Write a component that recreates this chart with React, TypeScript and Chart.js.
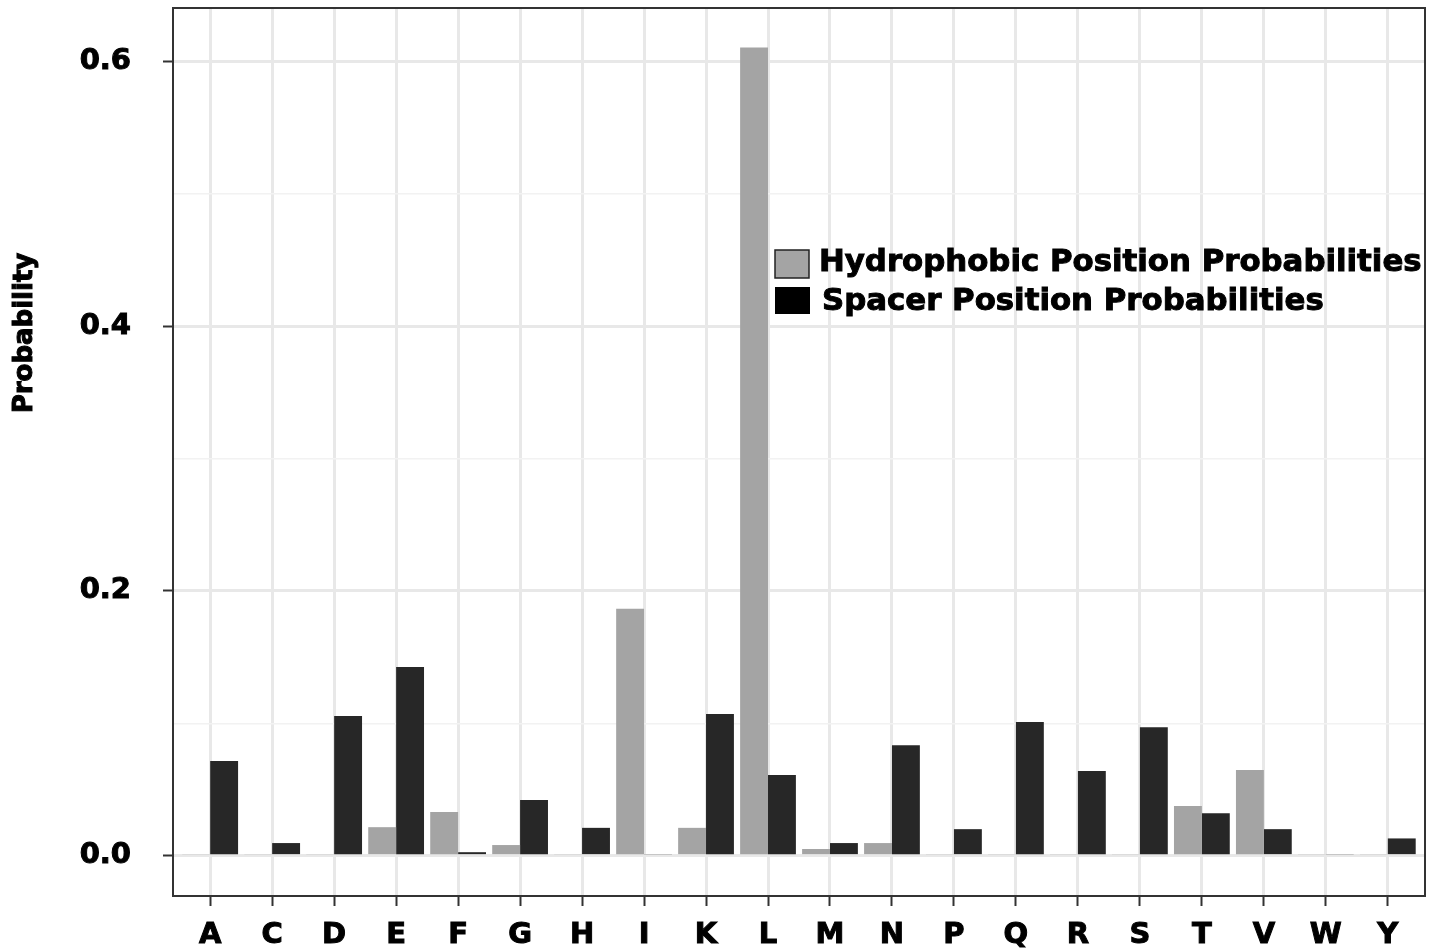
import React, { useEffect, useRef } from 'react';
import { Chart, registerables } from 'chart.js';
Chart.register(...registerables);

const categories = ['A', 'C', 'D', 'E', 'F', 'G', 'H', 'I', 'K', 'L', 'M', 'N', 'P', 'Q', 'R', 'S', 'T', 'V', 'W', 'Y'];
const hydrophobic = [0.001, 0.001, 0.001, 0.0215, 0.033, 0.008, 0.001, 0.1865, 0.021, 0.6106, 0.005, 0.0095, 0.001, 0.001, 0.001, 0.001, 0.0375, 0.0647, 0.001, 0.001];
const spacer = [0.0715, 0.0095, 0.1055, 0.1425, 0.0026, 0.042, 0.021, 0.001, 0.107, 0.061, 0.0095, 0.0835, 0.02, 0.101, 0.064, 0.097, 0.032, 0.02, 0.001, 0.013];
const seriesLabels = ['Hydrophobic Position Probabilities', 'Spacer Position Probabilities'];
const seriesColors = ['#a4a4a4', '#272727'];
const yTickValues = [0, 0.1, 0.2, 0.3, 0.4, 0.5, 0.6];
const yTickLabels = ['0.0', '', '0.2', '', '0.4', '', '0.6'];
const yTitle = 'Probability';

const FONT = '"DejaVu Sans", "Liberation Sans", Arial, sans-serif';

const overlay = {
  id: 'overlay',
  afterDatasetsDraw(chart: any) {
    const { ctx, chartArea } = chart;
    ctx.save();
    // frame
    ctx.strokeStyle = '#333333';
    ctx.lineWidth = 2;
    ctx.strokeRect(chartArea.left, chartArea.top, chartArea.right - chartArea.left, chartArea.bottom - chartArea.top);
    // legend
    ctx.font = `bold 30.8px ${FONT}`;
    ctx.textBaseline = 'middle';
    ctx.textAlign = 'left';
    ctx.fillStyle = seriesColors[0];
    ctx.fillRect(775, 250, 34, 28);
    ctx.strokeStyle = '#222';
    ctx.lineWidth = 1.5;
    ctx.strokeRect(775, 250, 34, 28);
    ctx.fillStyle = '#000';
    ctx.strokeStyle = '#000';
    ctx.lineWidth = 1;
    ctx.fillText(seriesLabels[0], 819, 263);
    ctx.strokeText(seriesLabels[0], 819, 263);
    ctx.fillRect(775, 287, 35, 27);
    ctx.fillText(seriesLabels[1], 822, 302);
    ctx.strokeText(seriesLabels[1], 822, 302);
    // y title
    ctx.translate(25, 333);
    ctx.rotate(-Math.PI / 2);
    ctx.textAlign = 'center';
    ctx.font = `bold 26px ${FONT}`;
    ctx.fillText(yTitle, 0, 0);
    ctx.strokeText(yTitle, 0, 0);
    ctx.restore();
  },
};

export default function App() {
  const ref = useRef<HTMLCanvasElement>(null);
  useEffect(() => {
    document.body.style.margin = '0';
    const canvas = ref.current!;
    const chart = new Chart(canvas, {
      type: 'bar',
      data: {
        datasets: [
          {
            label: seriesLabels[0],
            data: hydrophobic.map((v, i) => ({ x: i, y: v })),
            backgroundColor: seriesColors[0],
            borderWidth: 0,
            categoryPercentage: 0.9,
            barPercentage: 1.0,
          },
          {
            label: seriesLabels[1],
            data: spacer.map((v, i) => ({ x: i, y: v })),
            backgroundColor: seriesColors[1],
            borderWidth: 0,
            categoryPercentage: 0.9,
            barPercentage: 1.0,
          },
        ],
      },
      options: {
        animation: false,
        responsive: false,
        devicePixelRatio: 1,
        layout: { padding: { top: 8, right: 15, left: 0, bottom: 0 } },
        plugins: { legend: { display: false }, tooltip: { enabled: false }, title: { display: false } },
        scales: {
          x: {
            type: 'linear',
            min: -0.6,
            max: categories.length - 1 + 0.6,
            offset: false,
            afterBuildTicks: (scale: any) => {
              scale.ticks = categories.map((_, i) => ({ value: i }));
            },
            afterFit: (scale: any) => {
              scale.height = 55;
              scale.paddingLeft = 0;
              scale.paddingRight = 0;
              scale.paddingTop = 0;
              scale.paddingBottom = 0;
            },
            ticks: {
              autoSkip: false,
              maxRotation: 0,
              padding: 12,
              color: '#000',
              textStrokeColor: '#000',
              textStrokeWidth: 1,
              font: { family: FONT, weight: 'bold', size: 29 },
              callback: (v: any) => categories[v as number] ?? '',
            },
            grid: {
              color: '#e8e8e8',
              lineWidth: 3,
              tickColor: '#333333',
              tickLength: 10,
              tickWidth: 2,
              offset: false,
            },
            border: { display: false },
          },
          y: {
            min: -0.0305,
            max: 0.6405,
            afterBuildTicks: (scale: any) => {
              scale.ticks = yTickValues.map((v) => ({ value: v }));
            },
            afterFit: (scale: any) => {
              scale.width = 173;
              scale.paddingTop = 0;
              scale.paddingBottom = 0;
              scale.paddingLeft = 0;
              scale.paddingRight = 0;
            },
            ticks: {
              padding: 32,
              color: '#000',
              textStrokeColor: '#000',
              textStrokeWidth: 1,
              font: { family: FONT, weight: 'bold', size: 29 },
              callback: (_v: any, i: number) => yTickLabels[i],
            },
            grid: {
              color: (c: any) => (yTickLabels[c.index] ? '#e8e8e8' : '#f2f2f2'),
              lineWidth: (c: any) => (yTickLabels[c.index] ? 3 : 1.5),
              tickColor: (c: any) => (yTickLabels[c.index] ? '#333333' : 'rgba(0,0,0,0)'),
              tickLength: 10,
              tickWidth: 2,
            },
            border: { display: false },
          },
        },
      } as any,
      plugins: [overlay],
    });
    return () => chart.destroy();
  }, []);
  return (
    <div style={{ width: 1440, height: 951, background: '#fff' }}>
      <canvas ref={ref} width={1440} height={951} style={{ display: 'block' }} />
    </div>
  );
}
